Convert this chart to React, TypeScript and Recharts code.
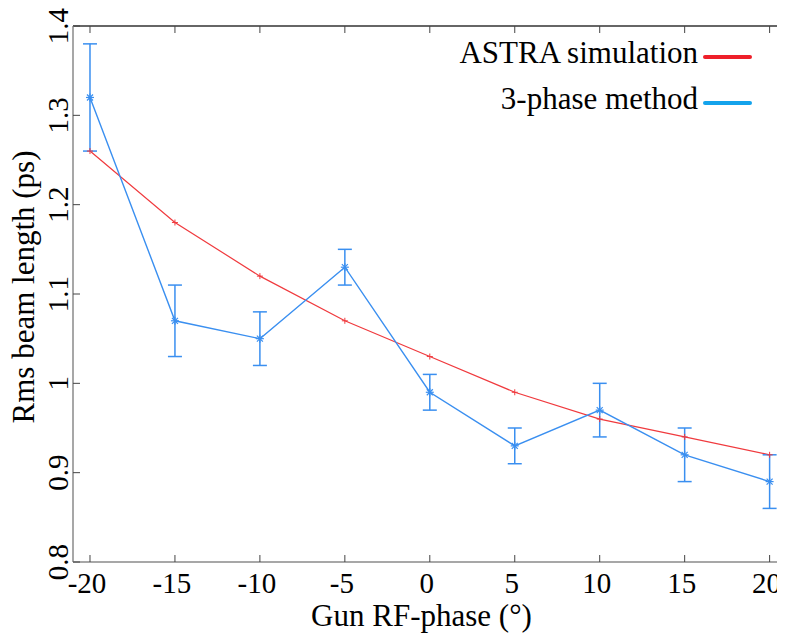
import React from "react";
import { LineChart, Line, XAxis, YAxis, ErrorBar, Legend } from "recharts";

const phases = [-20, -15, -10, -5, 0, 5, 10, 15, 20];
const astra = [1.26, 1.18, 1.12, 1.07, 1.03, 0.99, 0.96, 0.94, 0.92];
const measured = [1.32, 1.07, 1.05, 1.13, 0.99, 0.93, 0.97, 0.92, 0.89];
const measuredErr = [0.06, 0.04, 0.03, 0.02, 0.02, 0.02, 0.03, 0.03, 0.03];
const xTicks = [-20, -15, -10, -5, 0, 5, 10, 15, 20];
const yTicks = [0.8, 0.9, 1, 1.1, 1.2, 1.3, 1.4];
const seriesNames = ["ASTRA simulation", "3-phase method"];
const xLabel = "Gun RF-phase (°)";
const yLabel = "Rms beam length (ps)";

const data = phases.map((p, i) => ({
  phase: p,
  astra: astra[i],
  measured: measured[i],
  err: measuredErr[i],
}));

const FONT = "Liberation Serif, Times New Roman, serif";
const RED = "#f03a3e";
const BLUE = "#3a8ff0";
const LEG_RED = "#ee1f2a";
const LEG_BLUE = "#14a3ec";
const TICK_COLOR = "#444";
const textStyle = { fontFamily: FONT };

const BottomTick = (props: any) => {
  const { x, y, payload } = props;
  return (
    <g>
      <line x1={x} y1={y} x2={x} y2={y - 7} stroke={TICK_COLOR} strokeWidth={1} />
      <text x={x - 3} y={y + 31} textAnchor="middle" style={textStyle} fontSize={29} fill="#000">
        {payload.value}
      </text>
    </g>
  );
};

const TopTick = (props: any) => {
  const { x, y } = props;
  return <line x1={x} y1={y} x2={x} y2={y + 7} stroke={TICK_COLOR} strokeWidth={1} />;
};

const LeftTick = (props: any) => {
  const { x, y, payload } = props;
  return (
    <g>
      <line x1={x} y1={y} x2={x + 7} y2={y} stroke={TICK_COLOR} strokeWidth={1} />
      <text
        x={x - 5}
        y={y}
        transform={`rotate(-90 ${x - 5} ${y})`}
        textAnchor="middle"
        style={textStyle}
        fontSize={29}
        fill="#000"
      >
        {payload.value}
      </text>
    </g>
  );
};

const RightTick = (props: any) => {
  const { x, y } = props;
  return <line x1={x} y1={y} x2={x - 7} y2={y} stroke={TICK_COLOR} strokeWidth={1} />;
};

const PlusDot = (props: any) => {
  const { cx, cy } = props;
  if (cx == null || cy == null) return null;
  const s = 3;
  return (
    <g stroke={RED} strokeWidth={1}>
      <line x1={cx - s} y1={cy} x2={cx + s} y2={cy} />
      <line x1={cx} y1={cy - s} x2={cx} y2={cy + s} />
    </g>
  );
};

const StarDot = (props: any) => {
  const { cx, cy } = props;
  if (cx == null || cy == null) return null;
  const s = 4;
  return (
    <g stroke={BLUE} strokeWidth={1.2}>
      <line x1={cx - s} y1={cy} x2={cx + s} y2={cy} />
      <line x1={cx} y1={cy - s} x2={cx} y2={cy + s} />
      <line x1={cx - s * 0.75} y1={cy - s * 0.75} x2={cx + s * 0.75} y2={cy + s * 0.75} />
      <line x1={cx - s * 0.75} y1={cy + s * 0.75} x2={cx + s * 0.75} y2={cy - s * 0.75} />
    </g>
  );
};

const LegendContent = () => (
  <svg width={800} height={120} style={{ display: "block" }}>
    <text x={690} y={55} textAnchor="end" style={textStyle} fontSize={31} fill="#000">
      {seriesNames[0]}
    </text>
    <line x1={697} y1={49} x2={742} y2={49} stroke={LEG_RED} strokeWidth={4} strokeLinecap="round" />
    <text x={690} y={101} textAnchor="end" style={textStyle} fontSize={31} fill="#000">
      {seriesNames[1]}
    </text>
    <line x1={697} y1={95} x2={742} y2={95} stroke={LEG_BLUE} strokeWidth={4} strokeLinecap="round" />
  </svg>
);

const XLabel = (props: any) => {
  const vb = props.viewBox || {};
  const cx = (vb.x || 0) + (vb.width || 0) / 2 - 10;
  return (
    <text x={cx} y={618} textAnchor="middle" style={textStyle} fontSize={31} fill="#000">
      {xLabel}
    </text>
  );
};

const YLabel = () => (
  <text
    x={26}
    y={279}
    transform="rotate(-90 26 279)"
    textAnchor="middle"
    style={textStyle}
    fontSize={31}
    fill="#000"
  >
    {yLabel}
  </text>
);

export default function App() {
  return (
    <div style={{ width: 777, height: 629, overflow: "hidden", position: "relative" }}>
      <LineChart
        width={800}
        height={629}
        data={data}
        margin={{ top: 0, right: 0, bottom: 0, left: 0 }}
      >
        <XAxis
          xAxisId="bottom"
          dataKey="phase"
          type="number"
          domain={[-21, 21.2]}
          ticks={xTicks}
          allowDataOverflow
          orientation="bottom"
          height={75}
          tickSize={0}
          tickMargin={0}
          tickLine={false}
          axisLine={{ stroke: "#8a8a8a", strokeWidth: 1.5 }}
          tick={<BottomTick />}
          interval={0}
          label={<XLabel />}
        />
        <XAxis
          xAxisId="top"
          dataKey="phase"
          type="number"
          domain={[-21, 21.2]}
          ticks={xTicks}
          allowDataOverflow
          orientation="top"
          height={18}
          tickSize={0}
          tickMargin={0}
          tickLine={false}
          axisLine={{ stroke: "#333", strokeWidth: 1.5 }}
          tick={<TopTick />}
          interval={0}
        />
        <YAxis
          yAxisId="left"
          type="number"
          domain={[0.8, 1.4]}
          ticks={yTicks}
          orientation="left"
          width={65}
          tickSize={0}
          tickMargin={0}
          tickLine={false}
          axisLine={{ stroke: "#8a8a8a", strokeWidth: 1.5 }}
          tick={<LeftTick />}
          interval={0}
          label={<YLabel />}
        />
        <YAxis
          yAxisId="right"
          type="number"
          domain={[0.8, 1.4]}
          ticks={yTicks}
          orientation="right"
          width={18}
          tickSize={0}
          tickMargin={0}
          tickLine={false}
          axisLine={{ stroke: "#333", strokeWidth: 1.5 }}
          tick={<RightTick />}
          interval={0}
        />
        <Legend
          layout="horizontal"
          verticalAlign="middle"
          align="center"
          wrapperStyle={{ top: 0, left: 0, width: 800, height: 120 }}
          content={<LegendContent />}
        />
        <Line
          xAxisId="bottom"
          yAxisId="left"
          type="linear"
          dataKey="astra"
          stroke={RED}
          strokeWidth={1.2}
          dot={<PlusDot />}
          activeDot={false}
          isAnimationActive={false}
        />
        <Line
          xAxisId="bottom"
          yAxisId="left"
          type="linear"
          dataKey="measured"
          stroke={BLUE}
          strokeWidth={1.4}
          dot={<StarDot />}
          activeDot={false}
          isAnimationActive={false}
        >
          <ErrorBar dataKey="err" width={7} stroke={BLUE} strokeWidth={1.5} direction="y" isAnimationActive={false} />
        </Line>
      </LineChart>
    </div>
  );
}
